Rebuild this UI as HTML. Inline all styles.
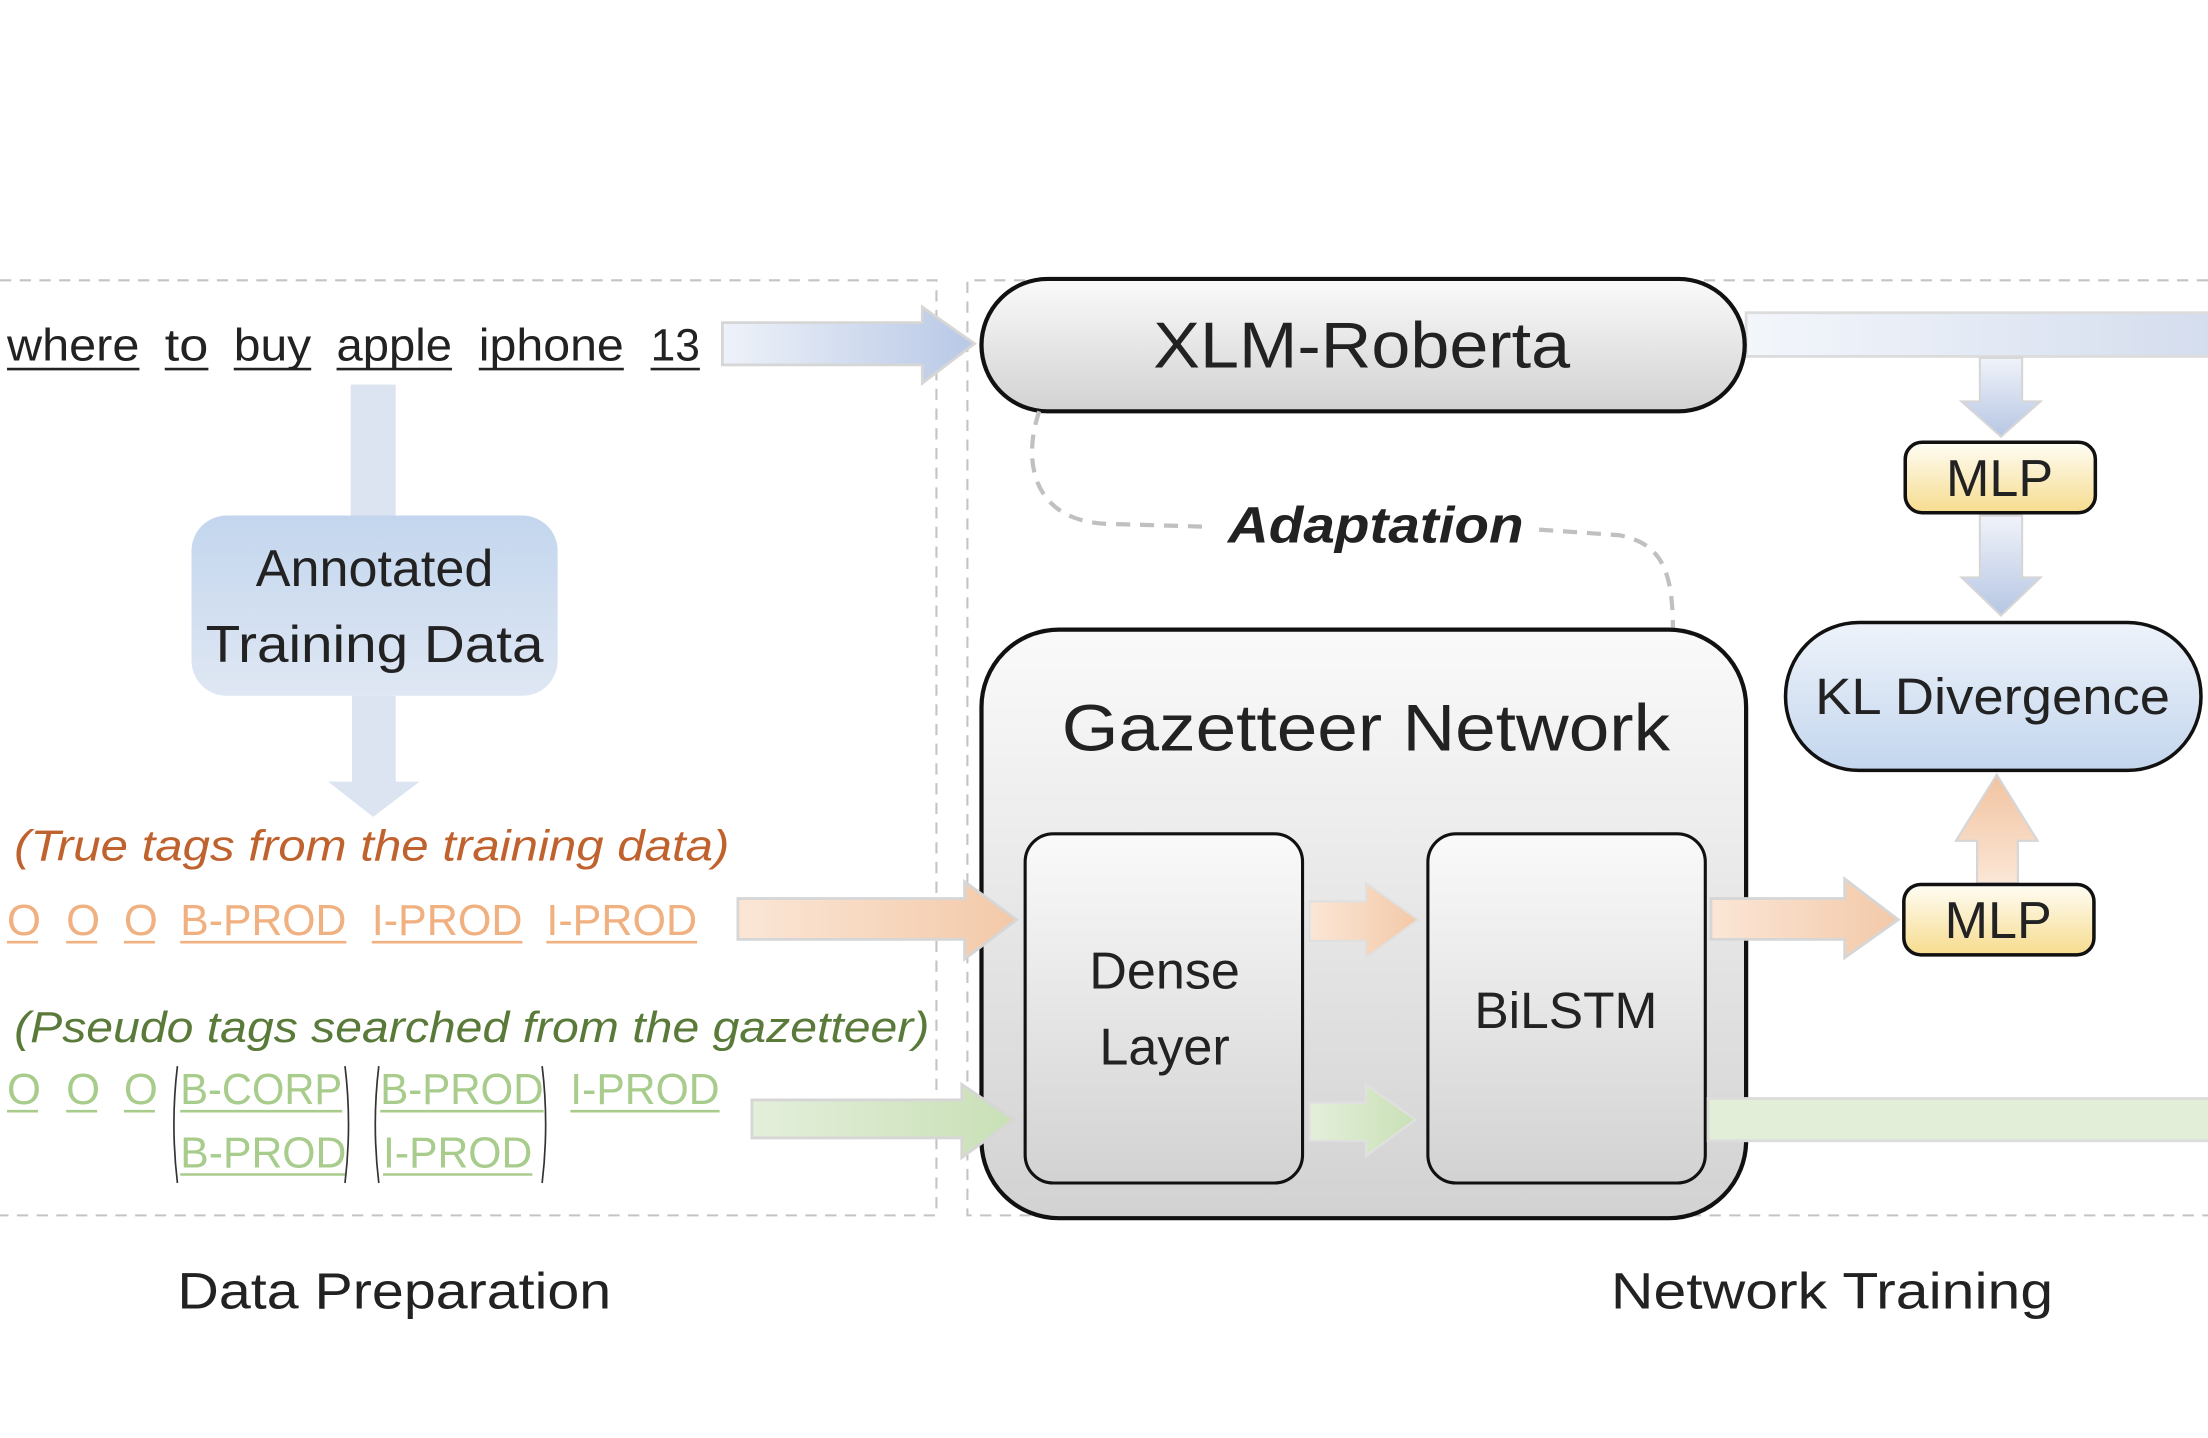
<!DOCTYPE html>
<html><head><meta charset="utf-8"><style>
html,body{margin:0;padding:0;background:#fff;}
svg{display:block;}
text{font-family:"Liberation Sans",sans-serif;}
</style></head><body>
<svg width="2208" height="1438" viewBox="0 0 1568 1021" xmlns="http://www.w3.org/2000/svg">
<defs>
<linearGradient id="gray" x1="0" y1="0" x2="0" y2="1"><stop offset="0" stop-color="#fafafa"/><stop offset="1" stop-color="#d2d2d2"/></linearGradient>
<linearGradient id="yel" x1="0" y1="0" x2="0" y2="1"><stop offset="0" stop-color="#fffdf5"/><stop offset="1" stop-color="#f6dc8e"/></linearGradient>
<linearGradient id="kl" x1="0" y1="0" x2="0" y2="1"><stop offset="0" stop-color="#eef3fa"/><stop offset="1" stop-color="#c3d6ee"/></linearGradient>
<linearGradient id="ann" x1="0" y1="0" x2="0" y2="1"><stop offset="0" stop-color="#c3d6ee"/><stop offset="1" stop-color="#dfe7f3"/></linearGradient>
<linearGradient id="blueH" x1="0" y1="0" x2="1" y2="0"><stop offset="0" stop-color="#eef2f9"/><stop offset="1" stop-color="#b8c8e6"/></linearGradient>
<linearGradient id="blueV" x1="0" y1="0" x2="0" y2="1"><stop offset="0" stop-color="#f0f3f9"/><stop offset="1" stop-color="#b6c6e4"/></linearGradient>
<linearGradient id="blueBand" x1="0" y1="0" x2="1" y2="0"><stop offset="0" stop-color="#f3f6fb"/><stop offset="1" stop-color="#d4ddee"/></linearGradient>
<linearGradient id="orH" x1="0" y1="0" x2="1" y2="0"><stop offset="0" stop-color="#fbe6d6"/><stop offset="1" stop-color="#f3c9a8"/></linearGradient>
<linearGradient id="orV" x1="0" y1="1" x2="0" y2="0"><stop offset="0" stop-color="#fbe6d6"/><stop offset="1" stop-color="#f1c3a0"/></linearGradient>
<linearGradient id="grH" x1="0" y1="0" x2="1" y2="0"><stop offset="0" stop-color="#e4efdb"/><stop offset="1" stop-color="#c9e0b6"/></linearGradient>
</defs>

<g fill="none" stroke="#c4c4c4" stroke-width="1.5" stroke-dasharray="8,6">
<path d="M0 199 H665 V863 H0"/>
<path d="M1568 199 H687 V863 H1568"/>
</g>

<g font-size="32" fill="#222">
<text x="5" y="256" textLength="94" lengthAdjust="spacingAndGlyphs">where</text>
<text x="117" y="256" textLength="31" lengthAdjust="spacingAndGlyphs">to</text>
<text x="166" y="256" textLength="55" lengthAdjust="spacingAndGlyphs">buy</text>
<text x="239" y="256" textLength="82" lengthAdjust="spacingAndGlyphs">apple</text>
<text x="340" y="256" textLength="103" lengthAdjust="spacingAndGlyphs">iphone</text>
<text x="462" y="256" textLength="35" lengthAdjust="spacingAndGlyphs">13</text>
</g>
<g stroke="#222" stroke-width="1.8">
<line x1="5" y1="262" x2="99" y2="262"/><line x1="117" y1="262" x2="148" y2="262"/><line x1="166" y1="262" x2="221" y2="262"/><line x1="239" y1="262" x2="321" y2="262"/><line x1="340" y1="262" x2="443" y2="262"/><line x1="462" y1="262" x2="497" y2="262"/>
</g>

<path d="M513 229 H655 V218 L692 244 L655 272 V259 H513 Z" fill="url(#blueH)" stroke="#d6d6d6" stroke-width="2"/>

<rect x="249" y="273" width="32" height="95" fill="#dce4f1"/>
<rect x="136" y="366" width="260" height="128" rx="25" fill="url(#ann)"/>
<text x="266" y="416" font-size="37" text-anchor="middle" fill="#222">Annotated</text>
<text x="266" y="470" font-size="37" text-anchor="middle" fill="#222" textLength="240" lengthAdjust="spacingAndGlyphs">Training Data</text>
<path d="M250 494 H281 V555 H298 L265 580 L233 555 H250 Z" fill="#dce4f1"/>

<text x="10" y="611" font-size="31" font-style="italic" fill="#c0622e" textLength="508" lengthAdjust="spacingAndGlyphs">(True tags from the training data)</text>
<g font-size="31" fill="#f0b080">
<text x="5" y="664">O</text><text x="47" y="664">O</text><text x="88" y="664">O</text>
<text x="128" y="664" textLength="118" lengthAdjust="spacingAndGlyphs">B-PROD</text>
<text x="264" y="664" textLength="107" lengthAdjust="spacingAndGlyphs">I-PROD</text>
<text x="388" y="664" textLength="107" lengthAdjust="spacingAndGlyphs">I-PROD</text>
</g>
<g stroke="#f0b080" stroke-width="1.8">
<line x1="5" y1="669" x2="27" y2="669"/><line x1="47" y1="669" x2="69" y2="669"/><line x1="88" y1="669" x2="110" y2="669"/><line x1="128" y1="669" x2="246" y2="669"/><line x1="264" y1="669" x2="371" y2="669"/><line x1="388" y1="669" x2="495" y2="669"/>
</g>

<text x="10" y="740" font-size="31" font-style="italic" fill="#5a7a3a" textLength="650" lengthAdjust="spacingAndGlyphs">(Pseudo tags searched  from the gazetteer)</text>
<g font-size="31" fill="#a8cc8c">
<text x="5" y="784">O</text><text x="47" y="784">O</text><text x="88" y="784">O</text>
<text x="128" y="784" textLength="115" lengthAdjust="spacingAndGlyphs">B-CORP</text>
<text x="270" y="784" textLength="116" lengthAdjust="spacingAndGlyphs">B-PROD</text>
<text x="405" y="784" textLength="106" lengthAdjust="spacingAndGlyphs">I-PROD</text>
<text x="128" y="829" textLength="118" lengthAdjust="spacingAndGlyphs">B-PROD</text>
<text x="272" y="829" textLength="106" lengthAdjust="spacingAndGlyphs">I-PROD</text>
</g>
<g stroke="#a8cc8c" stroke-width="1.8">
<line x1="5" y1="789" x2="27" y2="789"/><line x1="47" y1="789" x2="69" y2="789"/><line x1="88" y1="789" x2="110" y2="789"/><line x1="128" y1="789" x2="243" y2="789"/><line x1="270" y1="789" x2="386" y2="789"/><line x1="405" y1="789" x2="511" y2="789"/><line x1="128" y1="834" x2="246" y2="834"/><line x1="272" y1="834" x2="378" y2="834"/>
</g>
<g fill="none" stroke="#333" stroke-width="1.2">
<path d="M126 757 Q121 798 126 840"/><path d="M245 757 Q250 798 245 840"/>
<path d="M269 757 Q264 798 269 840"/><path d="M385 757 Q390 798 385 840"/>
</g>

<rect x="1240" y="222" width="330" height="31" fill="url(#blueBand)" stroke="#dcdcdc" stroke-width="2"/>
<path d="M1406 254 H1436 V285 H1449 L1421 310 L1393 285 H1406 Z" fill="url(#blueV)" stroke="#d6d6d6" stroke-width="1.5"/>
<path d="M1406 366 H1436 V410 H1449 L1421 437 L1393 410 H1406 Z" fill="url(#blueV)" stroke="#d6d6d6" stroke-width="1.5"/>

<rect x="697" y="198" width="542" height="94" rx="47" fill="url(#gray)" stroke="#111" stroke-width="3"/>
<text x="967" y="261" font-size="46" text-anchor="middle" fill="#222" textLength="296" lengthAdjust="spacingAndGlyphs">XLM-Roberta</text>

<path d="M738 292 C725 330 735 372 790 372 L858 374" fill="none" stroke="#c0c0c0" stroke-width="3" stroke-dasharray="10,7"/>
<path d="M1093 376 L1150 380 C1180 386 1188 405 1188 447" fill="none" stroke="#c0c0c0" stroke-width="3" stroke-dasharray="10,7"/>
<text x="872" y="385" font-size="36" font-weight="bold" font-style="italic" fill="#222" textLength="210" lengthAdjust="spacingAndGlyphs">Adaptation</text>

<rect x="697" y="447" width="543" height="418" rx="55" fill="url(#gray)" stroke="#111" stroke-width="3"/>
<text x="970" y="533" font-size="47" text-anchor="middle" fill="#222" textLength="432" lengthAdjust="spacingAndGlyphs">Gazetteer Network</text>

<path d="M524 638 H685 V626 L722 653 L685 681 V667 H524 Z" fill="url(#orH)" stroke="#d6d6d6" stroke-width="2"/>
<path d="M534 781 H683 V770 L720 795 L683 822 V808 H534 Z" fill="url(#grH)" stroke="#d6d6d6" stroke-width="2"/>

<rect x="728" y="592" width="197" height="248" rx="20" fill="url(#gray)" stroke="#111" stroke-width="2.2"/>
<text x="827" y="702" font-size="37" text-anchor="middle" fill="#222">Dense</text>
<text x="827" y="756" font-size="37" text-anchor="middle" fill="#222">Layer</text>
<rect x="1014" y="592" width="197" height="248" rx="20" fill="url(#gray)" stroke="#111" stroke-width="2.2"/>
<text x="1112" y="730" font-size="36" text-anchor="middle" fill="#222" textLength="130" lengthAdjust="spacingAndGlyphs">BiLSTM</text>
<path d="M930 640 H970 V627 L1007 653 L970 680 V668 H930 Z" fill="url(#orH)" stroke="#e0e0e0" stroke-width="1.5"/>
<path d="M930 783 H970 V770 L1005 795 L970 821 V810 H930 Z" fill="url(#grH)" stroke="#e0e0e0" stroke-width="1.5"/>

<rect x="1213" y="780" width="357" height="30" fill="#e3eed9" stroke="#dcdcdc" stroke-width="2"/>
<path d="M1215 638 H1310 V624 L1348 653 L1310 680 V667 H1215 Z" fill="url(#orH)" stroke="#d6d6d6" stroke-width="2"/>
<path d="M1404 627 V597 H1389 L1418 550 L1447 597 H1433 V627 Z" fill="url(#orV)" stroke="#d6d6d6" stroke-width="1.5"/>

<rect x="1353" y="314" width="135" height="50" rx="12" fill="url(#yel)" stroke="#111" stroke-width="2.5"/>
<text x="1420" y="352" font-size="37" text-anchor="middle" fill="#222">MLP</text>
<rect x="1352" y="628" width="135" height="50" rx="12" fill="url(#yel)" stroke="#111" stroke-width="2.5"/>
<text x="1419" y="666" font-size="37" text-anchor="middle" fill="#222">MLP</text>

<rect x="1268" y="442" width="295" height="105" rx="52" fill="url(#kl)" stroke="#111" stroke-width="2.5"/>
<text x="1415" y="507" font-size="36" text-anchor="middle" fill="#222" textLength="252" lengthAdjust="spacingAndGlyphs">KL Divergence</text>

<text x="126" y="929" font-size="36" fill="#222" textLength="308" lengthAdjust="spacingAndGlyphs">Data Preparation</text>
<text x="1144" y="929" font-size="36" fill="#222" textLength="314" lengthAdjust="spacingAndGlyphs">Network Training</text>
</svg>
</body></html>
